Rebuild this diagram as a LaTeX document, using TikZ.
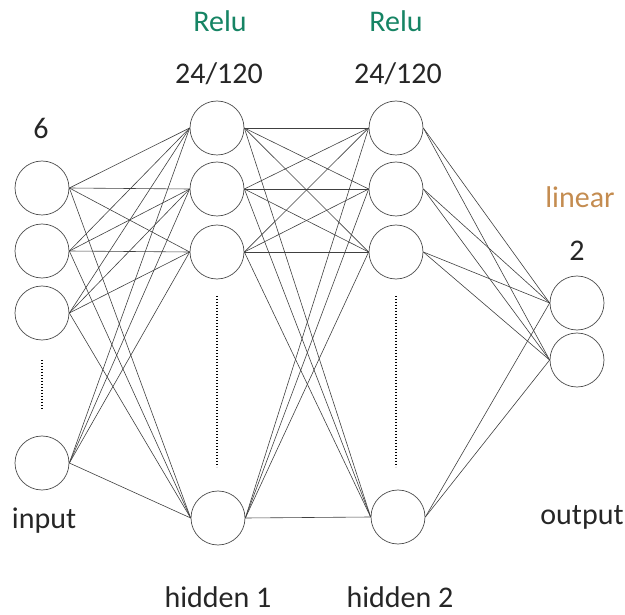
\documentclass[tikz,border=0pt]{standalone}
\usepackage{fontspec}
\setmainfont{Carlito}
\usepackage{tikz}
\definecolor{reluGreen}{RGB}{22,132,100}
\definecolor{linBrown}{RGB}{196,140,80}
\tikzset{
  neuron/.style={circle, draw=black!70, line width=0.7pt, minimum size=54pt, inner sep=0pt},
  wire/.style={draw=black!75, line width=0.6pt},
  vdots/.style={line width=1.6pt, dash pattern=on 1.4pt off 1.6pt},
  lbl/.style={font=\fontsize{30}{33}\selectfont, text=black!85},
}
\begin{document}
\begin{tikzpicture}[x=1pt, y=-1pt]
\useasboundingbox (0,0) rectangle (625,615);
% Define neurons
\node[neuron] (in1) at (42,188) {};
\node[neuron] (in2) at (42,251) {};
\node[neuron] (in3) at (42,313) {};
\node[neuron] (in4) at (42,463) {};
%
\node[neuron] (ha1) at (217,128) {};
\node[neuron] (ha2) at (217,189) {};
\node[neuron] (ha3) at (217,252) {};
\node[neuron] (ha4) at (218,518) {};
%
\node[neuron] (hb1) at (396,128) {};
\node[neuron] (hb2) at (396,189) {};
\node[neuron] (hb3) at (396,252) {};
\node[neuron] (hb4) at (398,517) {};
%
\node[neuron] (out1) at (577,303) {};
\node[neuron] (out2) at (577,360) {};
% Connect layers
\foreach \a in {1,...,4}
  \foreach \b in {1,...,4}
  {
    \draw[wire] (in\a.east) -- (ha\b.west);
    \draw[wire] (ha\a.east) -- (hb\b.west);
  }
\foreach \a in {1,...,4}
  \foreach \b in {1,2}
    \draw[wire] (hb\a.east) -- (out\b.west);
% Dotted gaps
\coordinate (d1) at (42,360);
\coordinate (d2) at (42,410);
\coordinate (d3) at (217,296);
\coordinate (d4) at (217,467);
\coordinate (d5) at (396,296);
\coordinate (d6) at (396,467);
\draw[vdots] (d1) -- (d2);
\draw[vdots] (d3) -- (d4);
\draw[vdots] (d5) -- (d6);
% Labels
\node[lbl, text=reluGreen] (act1) at (220,21) {Relu};
\node[lbl, text=reluGreen] (act2) at (396,21) {Relu};
\node[lbl] (size1) at (219,74) {24/120};
\node[lbl] (size2) at (398,74) {24/120};
\node[lbl] (size0) at (41,128) {6};
\node[lbl, text=linBrown] (act3) at (580,197) {linear};
\node[lbl] (size3) at (577,251) {2};
\node[lbl] (nin) at (44,521) {input};
\node[lbl] (nout) at (582,517) {output};
\node[lbl] (nh1) at (218,597) {hidden 1};
\node[lbl] (nh2) at (400,597) {hidden 2};
\end{tikzpicture}
\end{document}
